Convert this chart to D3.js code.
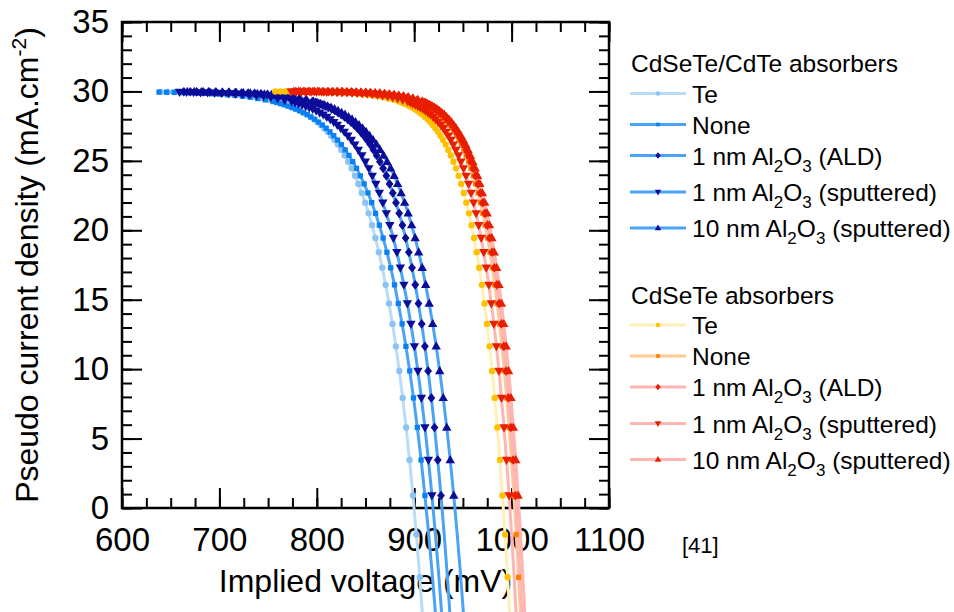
<!DOCTYPE html>
<html><head><meta charset="utf-8">
<script src="https://cdn.jsdelivr.net/npm/d3@7"></script>
<style>
body{margin:0;background:#fff;}
svg{display:block;font-family:"Liberation Sans",Arial,Helvetica,sans-serif;}
</style></head><body>
<svg id="chart" width="954" height="612"></svg>
<script>
// ---------- data ----------
// pseudo current density levels (mA.cm-2), shared by every curve
const jGrid = [-8.37,-4.99,-1.91,0.90,3.46,5.80,7.93,9.87,11.64,13.26,14.73,16.07,17.30,18.42,19.44,20.37,21.22,21.99,22.69,23.34,23.92,24.46,24.94,25.39,25.79,26.17,26.50,26.81,27.09,27.35,27.58,27.79,27.99,28.16,28.33,28.47,28.61,28.73,28.84,28.94,29.04,29.12,29.20,
  29.27,29.39,29.49,29.58,29.65,29.71,29.76,29.80,29.83,29.86,29.88,29.90,29.92,29.93,29.94,29.95,29.96,29.97,29.97,29.98,29.98,29.98,29.99,29.99,29.99,29.99,29.99,30.00,30.00];

const groups = ["CdSeTe/CdTe absorbers", "CdSeTe absorbers"];
const treatments = ["Te", "None", "1 nm Al2O3 (ALD)", "1 nm Al2O3 (sputtered)", "10 nm Al2O3 (sputtered)"];

// implied voltage (mV) for each jGrid level
const vCdTe_Te = [909.2,905.7,902.2,898.7,895.2,891.7,888.2,884.7,881.2,877.7,874.2,870.7,867.2,863.7,860.2,856.7,853.2,849.7,846.2,842.7,839.2,835.7,832.2,828.7,825.2,821.7,818.2,814.7,811.2,807.7,804.2,800.7,797.2,793.7,790.2,786.7,783.2,779.7,776.2,772.7,769.2,765.7,762.2,
  758.7,751.7,744.7,737.7,730.7,723.7,716.7,709.7,702.7,695.7,688.7,681.7,674.7,667.7,660.7,653.7,646.7,639.7];
const vCdTe_None = [922.7,918.8,914.9,911.0,907.1,903.2,899.3,895.4,891.5,887.6,883.7,879.8,875.9,872.0,868.1,864.2,860.3,856.4,852.5,848.6,844.7,840.8,836.9,833.0,829.1,825.2,821.3,817.4,813.5,809.6,805.7,801.8,797.9,794.0,790.1,786.2,782.3,778.4,774.5,770.6,766.7,762.8,758.9,
  755.0,747.2,739.4,731.6,723.8,716.0,708.2,700.4,692.6,684.8,677.0,669.2,661.4,653.6,645.8,638.0];
const vCdTe_ALD = [937.4,934.1,930.8,927.5,924.2,920.9,917.6,914.3,911.0,907.7,904.4,901.1,897.8,894.5,891.2,887.9,884.6,881.3,878.0,874.7,871.4,868.1,864.8,861.5,858.2,854.9,851.6,848.3,845.0,841.7,838.4,835.1,831.8,828.5,825.2,821.9,818.6,815.3,812.0,808.7,805.4,802.1,798.8,
  795.5,788.9,782.3,775.7,769.1,762.5,755.9,749.3,742.7,736.1,729.5,722.9,716.3,709.7,703.1,696.5,689.9,683.3,676.7,670.1,663.5];
const vCdTe_Sp1 = [929.0,925.4,921.8,918.2,914.6,911.0,907.4,903.8,900.2,896.6,893.0,889.4,885.8,882.2,878.6,875.0,871.4,867.8,864.2,860.6,857.0,853.4,849.8,846.2,842.6,839.0,835.4,831.8,828.2,824.6,821.0,817.4,813.8,810.2,806.6,803.0,799.4,795.8,792.2,788.6,785.0,781.4,777.8,
  774.2,767.0,759.8,752.6,745.4,738.2,731.0,723.8,716.6,709.4,702.2,695.0,687.8,680.6,673.4,666.2,659.0];
const vCdTe_Sp10 = [951.4,947.8,944.2,940.6,937.0,933.4,929.8,926.2,922.6,919.0,915.4,911.8,908.2,904.6,901.0,897.4,893.8,890.2,886.6,883.0,879.4,875.8,872.2,868.6,865.0,861.4,857.8,854.2,850.6,847.0,843.4,839.8,836.2,832.6,829.0,825.4,821.8,818.2,814.6,811.0,807.4,803.8,800.2,
  796.6,789.4,782.2,775.0,767.8,760.6,753.4,746.2,739.0,731.8,724.6,717.4,710.2,703.0,695.8,688.6,681.4,674.2,667.0];

const vSe_Te = [998.6,995.9,993.3,990.6,988.0,985.3,982.7,980.0,977.4,974.7,972.1,969.4,966.8,964.1,961.5,958.8,956.2,953.5,950.9,948.2,945.6,942.9,940.3,937.6,935.0,932.3,929.7,927.0,924.4,921.7,919.1,916.4,913.8,911.1,908.5,905.8,903.2,900.5,897.9,895.2,892.6,889.9,887.3,
  884.6,879.3,874.0,868.7,863.4,858.1,852.8,847.5,842.2,836.9,831.6,826.3,821.0,815.7,810.4,805.1,799.8,794.5,789.2,783.9,778.6,773.3,768.0,762.7,757.4];
const vSe_None = [1009.7,1007.2,1004.8,1002.3,999.9,997.4,995.0,992.5,990.1,987.6,985.2,982.7,980.3,977.8,975.4,972.9,970.5,968.0,965.6,963.1,960.7,958.2,955.8,953.3,950.9,948.4,946.0,943.5,941.1,938.6,936.2,933.7,931.3,928.8,926.4,923.9,921.5,919.0,916.6,914.1,911.7,909.2,906.8,
  904.3,899.4,894.5,889.6,884.7,879.8,874.9,870.0,865.1,860.2,855.3,850.4,845.5,840.6,835.7,830.8,825.9,821.0,816.1,811.2,806.3,801.4,796.5,791.6,786.7,781.8,776.9];
const vSe_ALD = [1011.2,1008.8,1006.4,1004.0,1001.6,999.2,996.8,994.4,992.0,989.6,987.2,984.8,982.4,980.0,977.6,975.2,972.8,970.4,968.0,965.6,963.2,960.8,958.4,956.0,953.6,951.2,948.8,946.4,944.0,941.6,939.2,936.8,934.4,932.0,929.6,927.2,924.8,922.4,920.0,917.6,915.2,912.8,910.4,
  908.0,903.2,898.4,893.6,888.8,884.0,879.2,874.4,869.6,864.8,860.0,855.2,850.4,845.6,840.8,836.0,831.2,826.4,821.6,816.8,812.0,807.2,802.4,797.6,792.8,788.0,783.2,778.4];
const vSe_Sp1 = [1005.2,1002.6,1000.0,997.4,994.8,992.2,989.6,987.0,984.4,981.8,979.2,976.6,974.0,971.4,968.8,966.2,963.6,961.0,958.4,955.8,953.2,950.6,948.0,945.4,942.8,940.2,937.6,935.0,932.4,929.8,927.2,924.6,922.0,919.4,916.8,914.2,911.6,909.0,906.4,903.8,901.2,898.6,896.0,
  893.4,888.2,883.0,877.8,872.6,867.4,862.2,857.0,851.8,846.6,841.4,836.2,831.0,825.8,820.6,815.4,810.2,805.0,799.8,794.6,789.4,784.2,779.0,773.8];
const vSe_Sp10 = [1014.1,1011.6,1009.2,1006.7,1004.3,1001.8,999.4,996.9,994.5,992.0,989.6,987.1,984.7,982.2,979.8,977.3,974.9,972.4,970.0,967.5,965.1,962.6,960.2,957.7,955.3,952.8,950.4,947.9,945.5,943.0,940.6,938.1,935.7,933.2,930.8,928.3,925.9,923.4,921.0,918.5,916.1,913.6,911.2,
  908.7,903.8,898.9,894.0,889.1,884.2,879.3,874.4,869.5,864.6,859.7,854.8,849.9,845.0,840.1,835.2,830.3,825.4,820.5,815.6,810.7,805.8,800.9,796.0,791.1,786.2,781.3,776.4];

const xTickLabels = [600, 700, 800, 900, 1000, 1100];
const yTickLabels = [0, 5, 10, 15, 20, 25, 30, 35];

// ---------- styles ----------
const voltages = [[vCdTe_Te, vCdTe_None, vCdTe_ALD, vCdTe_Sp1, vCdTe_Sp10],
                  [vSe_Te, vSe_None, vSe_ALD, vSe_Sp1, vSe_Sp10]];
const lineColors = [["#b9dcf8", "#4ba3f6", "#4ba3f6", "#4ba3f6", "#4ba3f6"],
                    ["#fff0b5", "#ffca94", "#ffb5b2", "#ffb5b2", "#ffb5b2"]];
const markColors = [["#8cc3f2", "#0a80f2", "#0c0c9a", "#0c0c9a", "#0c0c9a"],
                    ["#ffc000", "#ff8000", "#e81e00", "#e81e00", "#e81e00"]];
const shapes = ["circle", "square", "diamond", "down", "up"];
const showBelow = [[true, false, false, false, false], [true, true, false, false, false]];

function shapePath(s, k) {
  k = k || 1;
  if (s === "circle") return d3.symbol(d3.symbolCircle, 32 * k * k)();
  if (s === "square") return d3.symbol(d3.symbolSquare, 28 * k * k)();
  if (s === "diamond") return `M0,${-4.8*k}L${3.9*k},0L0,${4.8*k}L${-3.9*k},0Z`;
  if (s === "up") return `M0,${-5*k}L${4.7*k},${3.2*k}L${-4.7*k},${3.2*k}Z`;
  return `M0,${5*k}L${4.7*k},${-3.2*k}L${-4.7*k},${-3.2*k}Z`;
}

const svg = d3.select("#chart");
const x = d3.scaleLinear().domain([600, 1100]).range([122, 609]);
const y = d3.scaleLinear().domain([0, 35]).range([508, 22]);

// ---------- axes ----------
const tickFont = 33;
function styleAxis(g) {
  g.select(".domain").remove();
  g.selectAll(".tick line").attr("stroke", "#000").attr("stroke-width", 2);
  g.selectAll(".tick text").attr("font-size", tickFont).attr("fill", "#000")
    .attr("font-family", '"Liberation Sans",Arial,sans-serif');
}
const xMinor = d3.range(600, 1101, 25);
const yMinor = d3.range(0, 36, 1);
svg.append("g").attr("transform", `translate(0,${y(0)})`)
  .call(d3.axisBottom(x).tickValues(xMinor).tickSize(-10).tickFormat("")).call(styleAxis);
svg.append("g").attr("transform", `translate(0,${y(0)})`)
  .call(d3.axisBottom(x).tickValues(xTickLabels).tickSize(-20).tickPadding(20).tickFormat(d3.format("d"))).call(styleAxis);
svg.append("g").attr("transform", `translate(0,${y(35)})`)
  .call(d3.axisTop(x).tickValues(xMinor).tickSize(-10).tickFormat("")).call(styleAxis);
svg.append("g").attr("transform", `translate(0,${y(35)})`)
  .call(d3.axisTop(x).tickValues(xTickLabels).tickSize(-20).tickFormat("")).call(styleAxis);
svg.append("g").attr("transform", `translate(${x(600)},0)`)
  .call(d3.axisLeft(y).tickValues(yMinor).tickSize(-10).tickFormat("")).call(styleAxis);
svg.append("g").attr("transform", `translate(${x(600)},0)`)
  .call(d3.axisLeft(y).tickValues(yTickLabels).tickSize(-20).tickPadding(13).tickFormat(d3.format("d"))).call(styleAxis);
svg.append("g").attr("transform", `translate(${x(1100)},0)`)
  .call(d3.axisRight(y).tickValues(yMinor).tickSize(-10).tickFormat("")).call(styleAxis);
svg.append("g").attr("transform", `translate(${x(1100)},0)`)
  .call(d3.axisRight(y).tickValues(yTickLabels).tickSize(-20).tickFormat("")).call(styleAxis);

svg.append("rect").attr("x", x(600)).attr("y", y(35))
  .attr("width", x(1100) - x(600)).attr("height", y(0) - y(35))
  .attr("fill", "none").attr("stroke", "#000").attr("stroke-width", 2.5);

// axis titles
svg.append("text").attr("x", (x(600) + x(1100)) / 2).attr("y", 592)
  .attr("text-anchor", "middle").attr("font-size", 32).text("Implied voltage (mV)");
const yt = svg.append("text").attr("transform", `translate(38,${(y(0) + y(35)) / 2}) rotate(-90)`)
  .attr("text-anchor", "middle").attr("font-size", 32);
yt.append("tspan").text("Pseudo current density (mA.cm");
yt.append("tspan").attr("dy", -12).attr("font-size", 21).text("-2");
yt.append("tspan").attr("dy", 12).text(")");
svg.append("text").attr("x", 682).attr("y", 553).attr("font-size", 22).text("[41]");

// ---------- curves ----------
const line = d3.line().x(d => x(d[0])).y(d => y(d[1]));
const series = [];
groups.forEach((g, gi) => treatments.forEach((t, ti) => {
  series.push({gi, ti, pts: voltages[gi][ti].map((v, k) => [v, jGrid[k]])});
}));
const curves = svg.append("g");
series.forEach(s => {
  curves.append("path").attr("d", line(s.pts)).attr("fill", "none")
    .attr("stroke", lineColors[s.gi][s.ti]).attr("stroke-width", 3).attr("stroke-linejoin", "round");
});
series.forEach(s => {
  const pts = s.pts.filter(p => p[1] >= 0 || showBelow[s.gi][s.ti]);
  curves.append("g").selectAll("path").data(pts).join("path")
    .attr("transform", p => `translate(${x(p[0])},${y(p[1])})`)
    .attr("d", shapePath(shapes[s.ti]))
    .attr("fill", markColors[s.gi][s.ti]);
});

// ---------- legend ----------
function labelWithSubs(textSel, label) {
  let pending = 0;
  const add = (str, dy, size) => {
    const ts = textSel.append("tspan").text(str);
    if (dy + pending !== 0) ts.attr("dy", dy + pending);
    if (size) ts.attr("font-size", size);
    pending = 0;
  };
  label.split(/(Al2O3)/).forEach(part => {
    if (part === "Al2O3") {
      add("Al", 0);
      add("2", 7, 17);
      add("O", -7);
      add("3", 7, 17);
      pending = -7;
    } else if (part) add(part, 0);
  });
}
const legendTop = [72, 304];
const rowOffsets = [21.5, 52.5, 83.5, 120, 156];
const legend = svg.append("g").attr("font-size", 24.5);
groups.forEach((g, gi) => {
  legend.append("text").attr("x", 631).attr("y", legendTop[gi]).text(g);
  treatments.forEach((t, ti) => {
    const cy = legendTop[gi] + rowOffsets[ti] - (gi === 1 ? 0.5 : 0);
    legend.append("line").attr("x1", 630).attr("x2", 686).attr("y1", cy).attr("y2", cy)
      .attr("stroke", lineColors[gi][ti]).attr("stroke-width", 3);
    legend.append("path").attr("transform", `translate(658,${cy})`)
      .attr("d", shapePath(shapes[ti], 0.7)).attr("fill", markColors[gi][ti]);
    labelWithSubs(legend.append("text").attr("x", 692).attr("y", cy + 9), t);
  });
});
</script>
</body></html>
